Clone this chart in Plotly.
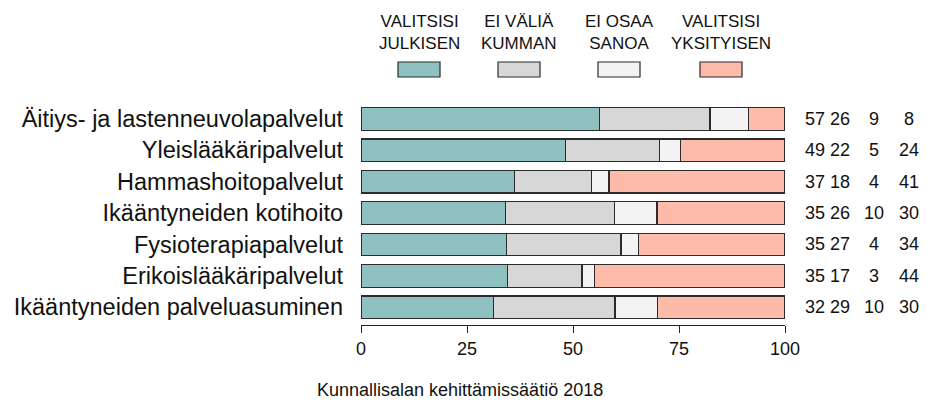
import plotly.graph_objects as go

categories = [
    "Äitiys- ja lastenneuvolapalvelut",
    "Yleislääkäripalvelut",
    "Hammashoitopalvelut",
    "Ikääntyneiden kotihoito",
    "Fysioterapiapalvelut",
    "Erikoislääkäripalvelut",
    "Ikääntyneiden palveluasuminen",
]
series_names = ["VALITSISI<br>JULKISEN", "EI VÄLIÄ<br>KUMMAN", "EI OSAA<br>SANOA", "VALITSISI<br>YKSITYISEN"]
julkinen = [56.2, 48.3, 36.2, 34.0, 34.4, 34.6, 31.2]
ei_valia = [26.1, 22.1, 18.2, 25.7, 26.9, 17.5, 28.7]
ei_osaa = [9.1, 5.0, 4.1, 10.1, 4.2, 2.9, 10.0]
yksityinen = [8.6, 24.6, 41.5, 30.2, 34.5, 45.0, 30.1]
labels_julkinen = [57, 49, 37, 35, 35, 35, 32]
labels_ei_valia = [26, 22, 18, 26, 27, 17, 29]
labels_ei_osaa = [9, 5, 4, 10, 4, 3, 10]
labels_yksityinen = [8, 24, 41, 30, 34, 44, 30]
x_ticks = [0, 25, 50, 75, 100]
caption = "Kunnallisalan kehittämissäätiö 2018"

colors = ["#8FC1C1", "#D7D7D7", "#F3F3F3", "#FFBBAA"]
values = [julkinen, ei_valia, ei_osaa, yksityinen]
label_cols = [labels_julkinen, labels_ei_valia, labels_ei_osaa, labels_yksityinen]

# the page body has an 8px margin; the visible area ends at window x = 919
OFF = 8
WIN_W, WIN_H = 927, 401
W, H = WIN_W - 2 * OFF, WIN_H - OFF
PLOT_L, PLOT_R, PLOT_T, PLOT_B = 361, 785, 100, 325   # window pixels
ML, MR = PLOT_L - OFF, W - (PLOT_R - OFF)
MT, MB = PLOT_T - OFF, H - (PLOT_B - OFF)
PW, PH = W - ML - MR, H - MT - MB

def px_to_paper(px, py):
    return (px - PLOT_L) / PW, (PLOT_B - py) / PH

FONT = "Liberation Sans, Arial, Helvetica, sans-serif"

fig = go.Figure()
for name, vals, col in zip(series_names, values, colors):
    fig.add_trace(go.Bar(
        y=categories, x=vals, name=name, orientation="h",
        marker=dict(color=col, line=dict(color="#2b2b2b", width=1.2)),
        width=0.72, showlegend=False, hoverinfo="x+y",
    ))

annotations = []
col_px = [815, 840, 874, 909]
for cpx, labs in zip(col_px, label_cols):
    for cat, v in zip(categories, labs):
        annotations.append(dict(
            x=px_to_paper(cpx, 0)[0], y=cat, xref="paper", yref="y", text=str(v),
            showarrow=False, xanchor="center", yanchor="middle",
            font=dict(family=FONT, size=18, color="#111111"),
        ))

leg_cx = [419, 519, 619, 721]
shapes = []
for cx, name, col in zip(leg_cx, series_names, colors):
    tx, ty = px_to_paper(cx, 32)
    annotations.append(dict(
        x=tx, y=ty, xref="paper", yref="paper", text=name, showarrow=False,
        xanchor="center", yanchor="middle", align="center",
        font=dict(family=FONT, size=17, color="#111111"),
    ))
    x0, y1 = px_to_paper(cx - 21, 62)
    x1, y0 = px_to_paper(cx + 21, 77)
    shapes.append(dict(type="rect", xref="paper", yref="paper", x0=x0, x1=x1, y0=y0, y1=y1,
                       fillcolor=col, line=dict(color="#2b2b2b", width=1.2)))

cx, cy = px_to_paper(460, 390)
annotations.append(dict(
    x=cx, y=cy, xref="paper", yref="paper", text=caption, showarrow=False,
    xanchor="center", yanchor="middle",
    font=dict(family=FONT, size=18, color="#111111"),
))

fig.update_layout(
    template="none",
    width=W, height=H,
    margin=dict(l=ML, r=MR, t=MT, b=MB, pad=0),
    barmode="stack", bargap=0.28,
    plot_bgcolor="white", paper_bgcolor="white",
    annotations=annotations, shapes=shapes,
    font=dict(family=FONT, color="#111111"),
    xaxis=dict(range=[0, 100], tickvals=x_ticks, ticktext=[str(t) for t in x_ticks],
               automargin=False,
               showgrid=False, zeroline=False, showline=True, linecolor="#222222", linewidth=1,
               ticks="outside", ticklen=7, tickcolor="#222222", tickwidth=1,
               tickfont=dict(family=FONT, size=18, color="#111111"), fixedrange=True),
    yaxis=dict(categoryorder="array", categoryarray=categories, range=[6.567, -0.6],
               automargin=False,
               showgrid=False, zeroline=False, showline=False, ticks="",
               ticklabelstandoff=17,
               tickfont=dict(family=FONT, size=23.5, color="#111111"), fixedrange=True),
)

fig.write_html("out.html")
